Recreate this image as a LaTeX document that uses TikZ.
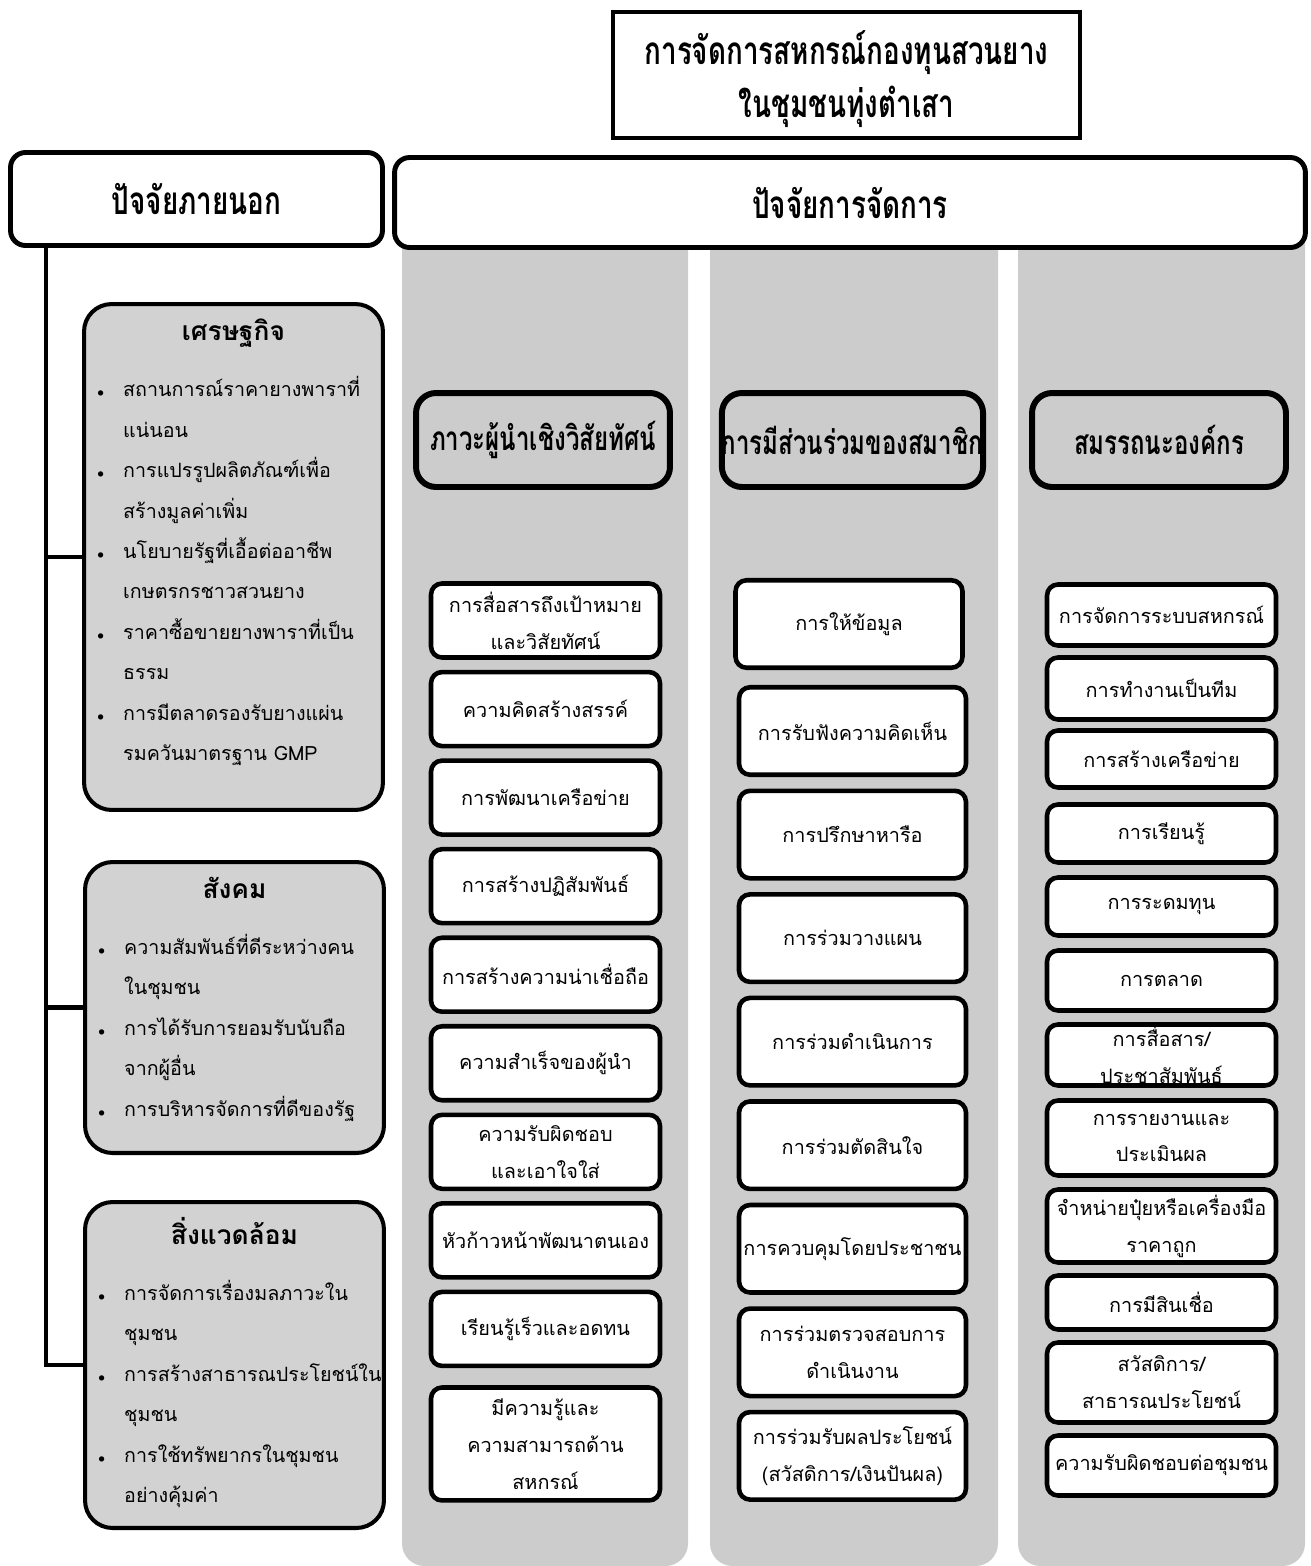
\documentclass[tikz,border=0pt]{standalone}
\usepackage{fontspec}
\setmainfont[Script=Thai]{Loma}
\newfontfamily\headfont[Script=Thai,FakeStretch=0.72]{Loma}
\usepackage{tikz}
\usetikzlibrary{positioning}

\newcommand{\dotmark}{{\fontsize{7}{7}\selectfont$\bullet$}}
\newcommand{\lowered}[1]{\raisebox{-2.3pt}[\height][\depth]{#1}}

\begin{document}
\begin{tikzpicture}[x=0.02cm, y=-0.02cm,
  conn/.style = {line width=2.3pt},
  colfill/.style = {fill=gray!40},
  mainhead/.style = {draw, line width=2.8pt, rounded corners=0.3cm, fill=white, align=center, font=\headfont\bfseries\fontsize{22}{30}\selectfont},
  subhead/.style = {draw, line width=3.4pt, rounded corners=0.4cm, minimum width=5.08cm, minimum height=1.88cm, align=center, inner sep=0pt, font=\headfont\bfseries\fontsize{19}{24}\selectfont},
  factorbox/.style = {draw, line width=2.3pt, rounded corners=0.55cm, fill=gray!35, inner sep=0pt, font=\fontsize{11.2}{23}\selectfont},
  itembox/.style = {draw, line width=2.6pt, rounded corners=0.22cm, fill=white, minimum width=4.58cm, align=center, inner sep=1pt, font=\fontsize{11.3}{21}\selectfont}]
\useasboundingbox (0,0) rectangle (1311,1566);

% gray columns behind the management factors
\fill[colfill, rounded corners=0.45cm] (402,200) rectangle (688,1566);
\fill[colfill, rounded corners=0.45cm] (710,200) rectangle (998,1566);
\fill[colfill, rounded corners=0.45cm] (1018,200) rectangle (1305,1566);

% title and main headings
\node[draw, line width=2.3pt, minimum width=9.34cm, minimum height=2.52cm, align=center, font=\headfont\bfseries\fontsize{22}{30}\selectfont] (title) at (846.5,75) {\lowered{การจัดการสหกรณ์กองทุนสวนยาง}\\\lowered{ในชุมชนทุ่งตำเสา}};
\node[mainhead, minimum width=7.44cm, minimum height=1.86cm] (ext) at (196.5,199) {ปัจจัยภายนอก};
\node[mainhead, minimum width=18.22cm, minimum height=1.8cm] (mgmt) at (850,202.5) {ปัจจัยการจัดการ};

% external factors
\node[factorbox] (eco) at (233.5,557) {\begin{minipage}[c][10.12cm][t]{5.98cm}
\vspace*{0.3cm}
{\centering\bfseries\fontsize{15}{20}\selectfont เศรษฐกิจ\par}
\vspace{9pt}
\noindent\hspace*{0.26cm}\begin{tabular}[t]{@{}l@{\hspace{0.38cm}}l@{}}
\dotmark & สถานการณ์ราคายางพาราที่\\
 & แน่นอน\\
\dotmark & การแปรรูปผลิตภัณฑ์เพื่อ\\
 & สร้างมูลค่าเพิ่ม\\
\dotmark & นโยบายรัฐที่เอื้อต่ออาชีพ\\
 & เกษตรกรชาวสวนยาง\\
\dotmark & ราคาซื้อขายยางพาราที่เป็น\\
 & ธรรม\\
\dotmark & การมีตลาดรองรับยางแผ่น\\
 & รมควันมาตรฐาน GMP
\end{tabular}
\end{minipage}};
\node[factorbox] (soc) at (234.5,1007.5) {\begin{minipage}[c][5.82cm][t]{5.98cm}
\vspace*{0.3cm}
{\centering\bfseries\fontsize{15}{20}\selectfont สังคม\par}
\vspace{9pt}
\noindent\hspace*{0.26cm}\begin{tabular}[t]{@{}l@{\hspace{0.38cm}}l@{}}
\dotmark & ความสัมพันธ์ที่ดีระหว่างคน\\
 & ในชุมชน\\
\dotmark & การได้รับการยอมรับนับถือ\\
 & จากผู้อื่น\\
\dotmark & การบริหารจัดการที่ดีของรัฐ
\end{tabular}
\end{minipage}};
\node[factorbox] (env) at (234.5,1365) {\begin{minipage}[c][6.52cm][t]{5.98cm}
\vspace*{0.3cm}
{\centering\bfseries\fontsize{15}{20}\selectfont สิ่งแวดล้อม\par}
\vspace{9pt}
\noindent\hspace*{0.26cm}\begin{tabular}[t]{@{}l@{\hspace{0.38cm}}l@{}}
\dotmark & การจัดการเรื่องมลภาวะใน\\
 & ชุมชน\\
\dotmark & การสร้างสาธารณประโยชน์ใน\\
 & ชุมชน\\
\dotmark & การใช้ทรัพยากรในชุมชน\\
 & อย่างคุ้มค่า
\end{tabular}
\end{minipage}};

\coordinate (trunk) at (46,248);
\draw[conn] (trunk) |- (eco.west);
\draw[conn] (trunk) |- (soc.west);
\draw[conn] (trunk) |- (env.west);

% management factors
\node[subhead] (lead) at (543,440) {ภาวะผู้นำเชิงวิสัยทัศน์};
\node[subhead] (part) at (852.5,440) {การมีส่วนร่วมของสมาชิก};
\node[subhead] (comp) at (1159,440) {สมรรถนะองค์กร};

% leadership
\node[itembox, minimum height=1.48cm] (l1) at (545.5,620.5) {การสื่อสารถึงเป้าหมาย\\และวิสัยทัศน์};
\node[itembox, minimum height=1.48cm, below=0.2cm of l1] (l2) {ความคิดสร้างสรรค์};
\node[itembox, minimum height=1.48cm, below=0.2cm of l2] (l3) {การพัฒนาเครือข่าย};
\node[itembox, minimum height=1.48cm, below=0.2cm of l3] (l4) {การสร้างปฏิสัมพันธ์};
\node[itembox, minimum height=1.48cm, below=0.2cm of l4] (l5) {การสร้างความน่าเชื่อถือ};
\node[itembox, minimum height=1.48cm, below=0.2cm of l5] (l6) {ความสำเร็จของผู้นำ};
\node[itembox, minimum height=1.48cm, below=0.2cm of l6] (l7) {ความรับผิดชอบ\\และเอาใจใส่};
\node[itembox, minimum height=1.48cm, below=0.2cm of l7] (l8) {หัวก้าวหน้าพัฒนาตนเอง};
\node[itembox, minimum height=1.48cm, below=0.2cm of l8] (l9) {เรียนรู้เร็วและอดทน};
\node[itembox, minimum height=2.26cm, below=0.34cm of l9] (l10) {มีความรู้และ\\ความสามารถด้าน\\สหกรณ์};

% participation
\node[itembox, minimum width=4.54cm, minimum height=1.75cm] (p1) at (849,624) {การให้ข้อมูล};
\node[itembox, minimum width=4.54cm, minimum height=1.75cm] (p2) at (852.5,731) {การรับฟังความคิดเห็น};
\node[itembox, minimum width=4.54cm, minimum height=1.75cm, below=0.23cm of p2] (p3) {การปรึกษาหารือ};
\node[itembox, minimum width=4.54cm, minimum height=1.75cm, below=0.23cm of p3] (p4) {การร่วมวางแผน};
\node[itembox, minimum width=4.54cm, minimum height=1.75cm, below=0.23cm of p4] (p5) {การร่วมดำเนินการ};
\node[itembox, minimum width=4.54cm, minimum height=1.75cm, below=0.23cm of p5] (p6) {การร่วมตัดสินใจ};
\node[itembox, minimum width=4.54cm, minimum height=1.75cm, below=0.23cm of p6] (p7) {การควบคุมโดยประชาชน};
\node[itembox, minimum width=4.54cm, minimum height=1.75cm, below=0.23cm of p7] (p8) {การร่วมตรวจสอบการ\\ดำเนินงาน};
\node[itembox, minimum width=4.54cm, minimum height=1.75cm, below=0.23cm of p8] (p9) {การร่วมรับผลประโยชน์\\(สวัสดิการ/เงินปันผล)};

% competency
\node[itembox, minimum height=1.22cm] (c1) at (1161.5,615) {การจัดการระบบสหกรณ์};
\node[itembox, minimum height=1.24cm] (c2) at (1161.5,688.5) {การทำงานเป็นทีม};
\node[itembox, minimum height=1.14cm] (c3) at (1161.5,759) {การสร้างเครือข่าย};
\node[itembox, minimum height=1.16cm] (c4) at (1161.5,833.5) {การเรียนรู้};
\node[itembox, minimum height=1.16cm] (c5) at (1161.5,906.5) {การระดมทุน};
\node[itembox, minimum height=1.2cm] (c6) at (1161.5,980.5) {การตลาด};
\node[itembox, minimum height=1.22cm] (c7) at (1161.5,1055) {การสื่อสาร/\\ประชาสัมพันธ์};
\node[itembox, minimum height=1.5cm] (c8) at (1161.5,1138) {การรายงานและ\\ประเมินผล};
\node[itembox, minimum height=1.46cm] (c9) at (1161.5,1226) {จำหน่ายปุ๋ยหรือเครื่องมือ\\ราคาถูก};
\node[itembox, minimum height=1.08cm] (c10) at (1161.5,1302.5) {การมีสินเชื่อ};
\node[itembox, minimum height=1.6cm] (c11) at (1161.5,1382.5) {สวัสดิการ/\\สาธารณประโยชน์};
\node[itembox, minimum height=1.2cm] (c12) at (1161.5,1465.5) {ความรับผิดชอบต่อชุมชน};
\end{tikzpicture}
\end{document}
